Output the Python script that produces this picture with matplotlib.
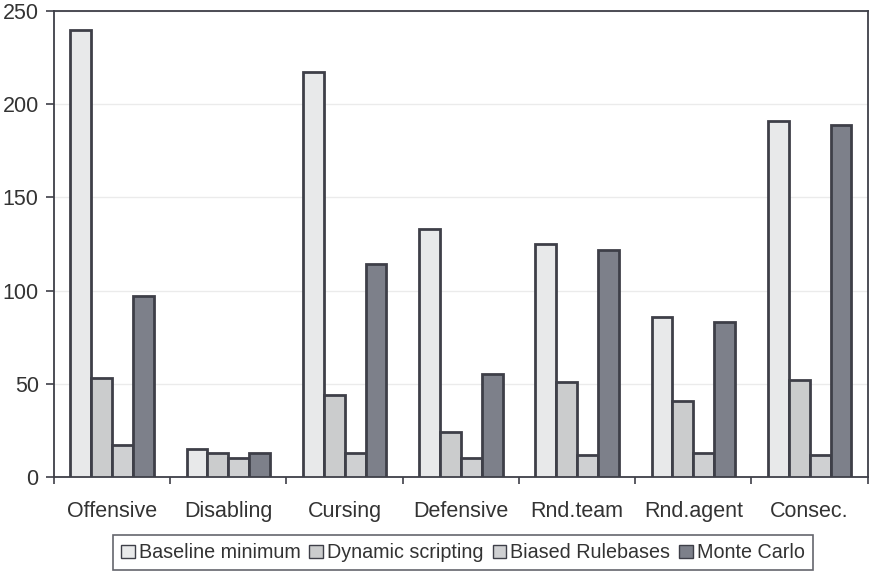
import numpy as np
import matplotlib.pyplot as plt

categories = ["Offensive", "Disabling", "Cursing", "Defensive", "Rnd.team", "Rnd.agent", "Consec."]
baseline = [240, 15, 217, 133, 125, 86, 191]
dynamic = [53, 13, 44, 24, 51, 41, 52]
biased = [17, 10, 13, 10, 12, 13, 12]
monte_carlo = [97, 13, 114, 55, 122, 83, 189]

series = [
    ("Baseline minimum", baseline, "#e8e9ea"),
    ("Dynamic scripting", dynamic, "#cbcccd"),
    ("Biased Rulebases", biased, "#cfd0d2"),
    ("Monte Carlo", monte_carlo, "#7d808a"),
]

plt.rcParams["font.family"] = ["Liberation Sans", "DejaVu Sans"]
edge = "#3e3f48"
text_color = "#333333"

fig = plt.figure(figsize=(8.75, 5.76), dpi=100)
ax = fig.add_axes([0.0617, 0.172, 0.930, 0.809])

x = np.arange(len(categories))
width = 0.18
for i, (name, vals, color) in enumerate(series):
    ax.bar(x + (i - 1.5) * width, vals, width, color=color, edgecolor=edge,
           linewidth=2, label=name, zorder=3)

ax.set_xlim(-0.5, len(categories) - 0.5)
ax.set_ylim(0, 250)
ax.set_yticks(range(0, 251, 50))
ax.yaxis.grid(True, color="#ebebeb", linewidth=1, zorder=0)

# category boundaries carry the ticks, names sit in between
ax.set_xticks(np.arange(len(categories) + 1) - 0.5)
ax.set_xticklabels([])
ax.set_xticks(x, minor=True)
ax.set_xticklabels(categories, minor=True)
ax.tick_params(axis="x", which="minor", length=0, pad=17, labelsize=15.5, labelcolor=text_color)
ax.tick_params(axis="x", which="major", length=5, width=1.2, color=edge, direction="out")
ax.tick_params(axis="y", length=6, width=1.2, color=edge, labelsize=15.5, labelcolor=text_color, pad=5)
for s in ax.spines.values():
    s.set_color(edge)
    s.set_linewidth(1.3)

leg = fig.legend(loc="lower center", bbox_to_anchor=(0.529, 0.01), ncol=4, fontsize=14.2,
                 frameon=True, fancybox=False, edgecolor=edge, handlelength=0.7,
                 handleheight=0.7, handletextpad=0.2, columnspacing=0.45,
                 borderpad=0.4, borderaxespad=0)
leg.get_frame().set_linewidth(1.2)
for t in leg.get_texts():
    t.set_color(text_color)
for h in leg.legend_handles:
    h.set_linewidth(1)

fig.savefig("out.png", dpi=100)
